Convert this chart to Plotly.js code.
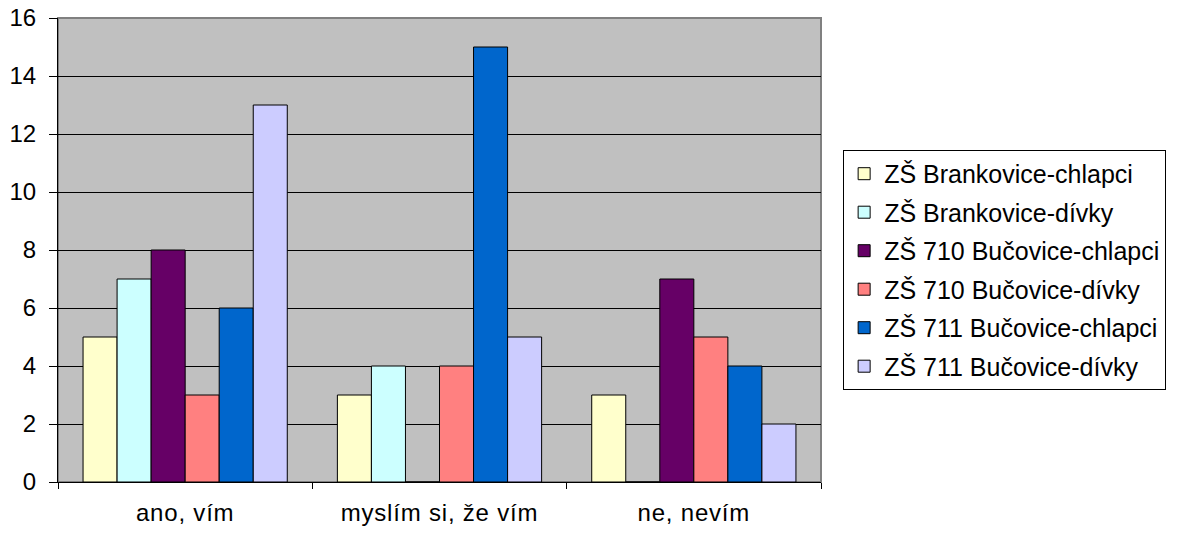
<!DOCTYPE html>
<html><head><meta charset="utf-8">
<script src="https://cdn.plot.ly/plotly-3.0.1.min.js"></script>
<style>body{margin:0;background:#fff}#c{width:1178px;height:537px}
#c svg .xtick text{letter-spacing:0.8px}</style>
</head><body><div id="c"></div>
<script>
const categories = ["ano, vím", "myslím si, že vím", "ne, nevím"];
const seriesNames = ["ZŠ Brankovice-chlapci", "ZŠ Brankovice-dívky", "ZŠ 710 Bučovice-chlapci", "ZŠ 710 Bučovice-dívky", "ZŠ 711 Bučovice-chlapci", "ZŠ 711 Bučovice-dívky"];
const brankoviceChlapci = [5, 3, 3];
const brankoviceDivky = [7, 4, 0];
const b710Chlapci = [8, 0, 7];
const b710Divky = [3, 4, 5];
const b711Chlapci = [6, 15, 4];
const b711Divky = [13, 5, 2];
const colors = ["#FFFFCC", "#CCFFFF", "#660066", "#FF8080", "#0066CC", "#CCCCFF"];
const values = [brankoviceChlapci, brankoviceDivky, b710Chlapci, b710Divky, b711Chlapci, b711Divky];

const traces = values.map((v, i) => ({
  type: "bar", x: categories, y: v, name: seriesNames[i], legendgroup: "g" + i,
  marker: {color: colors[i], line: {color: "#000", width: 1}}
}));

const layout = {
  width: 1178, height: 537,
  margin: {l: 58, r: 357, t: 18, b: 55},
  paper_bgcolor: "#fff", plot_bgcolor: "#C0C0C0",
  font: {family: "Liberation Sans, Arial, sans-serif", size: 24, color: "#000"},
  barmode: "group", bargap: 0.197, bargroupgap: 0,
  showlegend: true,
  legend: {x: 1.029, xanchor: "left", y: 0.457, yanchor: "middle",
    bgcolor: "#fff", bordercolor: "#000", borderwidth: 1,
    traceorder: "grouped", tracegroupgap: 3, font: {size: 25}, itemwidth: 30},
  xaxis: {type: "category", tickson: "boundaries", ticks: "outside", ticklen: 6, tickcolor: "#000",
    showline: true, linecolor: "#000", linewidth: 1, showgrid: false, zeroline: false, ticklabelstandoff: 9,
    tickfont: {size: 24}},
  yaxis: {range: [0, 16], dtick: 2, ticks: "outside", ticklen: 8, tickcolor: "#000",
    showline: true, linecolor: "#000", linewidth: 1, showgrid: true, gridcolor: "#000", gridwidth: 1,
    zeroline: true, zerolinecolor: "#000", zerolinewidth: 1, tickfont: {size: 24}, ticklabelstandoff: 8},
  shapes: [{type: "rect", xref: "paper", yref: "paper", x0: 0, x1: 1, y0: 0, y1: 1,
    line: {color: "#808080", width: 2}, layer: "below"}]
};
Plotly.newPlot("c", traces, layout, {displayModeBar: false});
</script></body></html>
